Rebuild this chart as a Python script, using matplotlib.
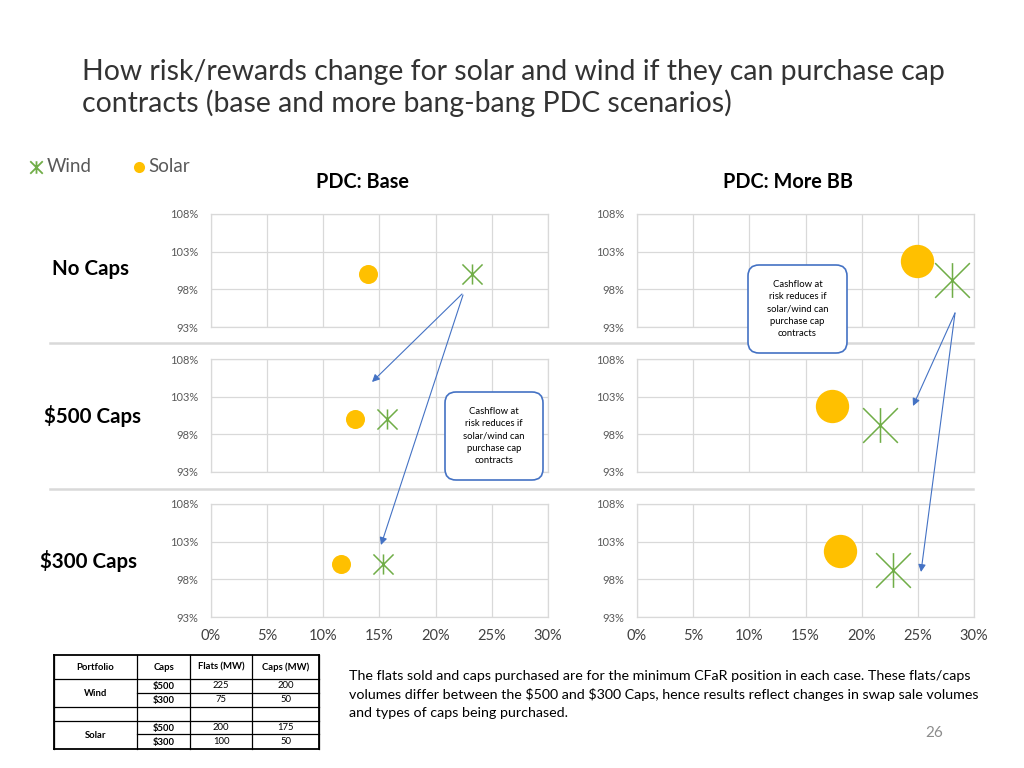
import matplotlib.pyplot as plt
from matplotlib.path import Path
from matplotlib.patches import FancyBboxPatch
from matplotlib.ticker import FuncFormatter

plt.rcParams['text.parse_math'] = False
plt.rcParams['font.family'] = ['Lato', 'DejaVu Sans']

# cap scenarios (rows) and PDC scenarios (columns)
scenarios = ["No Caps", "$500 Caps", "$300 Caps"]
pdc_cases = ["PDC: Base", "PDC: More BB"]

# x = cashflow at risk (%), y = reward (%)
base_solar_x = [14.0, 12.8, 11.6]
base_solar_y = [100.0, 100.0, 100.0]
base_wind_x = [23.2, 15.7, 15.3]
base_wind_y = [100.0, 100.0, 100.0]
bb_solar_x = [24.9, 17.4, 18.1]
bb_solar_y = [101.8, 101.8, 101.8]
bb_wind_x = [28.0, 21.6, 22.8]
bb_wind_y = [99.2, 99.2, 99.2]

x_ticks = [0, 5, 10, 15, 20, 25, 30]
y_ticks = [93, 98, 103, 108]

# table
table_header = ["Portfolio", "Caps", "Flats (MW)", "Caps (MW)"]
cap_levels = ["$500", "$300"]
wind_flats = [225, 75]
wind_caps = [200, 50]
solar_flats = [200, 100]
solar_caps = [175, 50]

callout_text = "Cashflow at\nrisk reduces if\nsolar/wind can\npurchase cap\ncontracts"
note_lines = [
    "The flats sold and caps purchased are for the minimum CFaR position in each case. These flats/caps",
    "volumes differ between the $500 and $300 Caps, hence results reflect changes in swap sale volumes",
    "and types of caps being purchased.",
]

SOLAR = '#FFC000'
WIND = '#70AD47'
BLUE = '#4472C4'
GRID = '#D9D9D9'
GREY = '#595959'

W, H = 1024, 768
fig = plt.figure(figsize=(W / 100, H / 100), dpi=100)

wind_marker = Path([(0, -1), (0, 1), (-1, -1), (1, 1), (-1, 1), (1, -1)],
                   [Path.MOVETO, Path.LINETO] * 3)

cols = [(210.7, 548), (637, 974)]
rows = [(214, 327), (359, 472), (504, 617)]
col_data = [(base_solar_x, base_solar_y, base_wind_x, base_wind_y, 13.7, 14.5),
            (bb_solar_x, bb_solar_y, bb_wind_x, bb_wind_y, 24, 25)]

pct = FuncFormatter(lambda v, p: f"{v:.0f}%")

for ci, (x0, x1) in enumerate(cols):
    sx, sy, wx, wy, s_ms, w_ms = col_data[ci]
    for ri, (y0, y1) in enumerate(rows):
        ax = fig.add_axes([x0 / W, 1 - y1 / H, (x1 - x0) / W, (y1 - y0) / H])
        ax.set_xlim(0, 30)
        ax.set_ylim(93, 108)
        ax.set_xticks(x_ticks)
        ax.set_yticks(y_ticks)
        ax.xaxis.set_major_formatter(pct)
        ax.yaxis.set_major_formatter(pct)
        ax.grid(True, color=GRID, lw=0.9)
        ax.set_axisbelow(True)
        for s in ax.spines.values():
            s.set_color(GRID)
            s.set_linewidth(0.9)
        ax.tick_params(length=0, colors=GREY)
        ax.tick_params(axis='y', labelsize=8, pad=9)
        if ri == 2:
            ax.tick_params(axis='x', labelsize=10.5, pad=9, labelcolor='#404040')
        else:
            ax.tick_params(axis='x', labelbottom=False)
        ax.plot([sx[ri]], [sy[ri]], 'o', color=SOLAR, ms=s_ms, mec='none')
        ax.plot([wx[ri]], [wy[ri]], ls='none', marker=wind_marker, ms=w_ms,
                mfc='none', mec=WIND, mew=1.1)

# overlay in pixel coordinates for slide elements
ov = fig.add_axes([0, 0, 1, 1])
ov.set_xlim(0, W)
ov.set_ylim(H, 0)
ov.axis('off')

ov.text(82, 80, "How risk/rewards change for solar and wind if they can purchase cap",
        fontsize=20.4, color='#333333', va='baseline')
ov.text(82, 112, "contracts (base and more bang-bang PDC scenarios)",
        fontsize=20.4, color='#333333', va='baseline')

# legend
ov.plot([36], [167], ls='none', marker=wind_marker, ms=9, mfc='none', mec=WIND, mew=1.3)
ov.text(47, 167, "Wind", fontsize=13.5, color=GREY, va='center')
ov.plot([139], [167], 'o', color=SOLAR, ms=8, mec='none')
ov.text(148, 167, "Solar", fontsize=13.5, color=GREY, va='center')

for cx, name in zip([362, 788], pdc_cases):
    ov.text(cx, 182, name, fontsize=14.3, fontweight='bold', ha='center', va='center', color='black')
for cy, cx, name in zip([269, 416, 561], [90, 92, 89], scenarios):
    ov.text(cx, cy, name, fontsize=14.8, fontweight='bold', ha='center', va='center', color='black')

# separators between rows
for sy_ in [343, 489]:
    ov.plot([50, 973], [sy_, sy_], color=GRID, lw=1.8)

# arrows
arrows = [((462, 294), (372, 382)), ((463, 295), (381, 545)),
          ((955, 313), (913, 406)), ((955, 313), (921, 572))]
for start, tip in arrows:
    ov.annotate("", xy=tip, xytext=start,
                arrowprops=dict(arrowstyle='-|>', color=BLUE, lw=0.8,
                                mutation_scale=11, shrinkA=0, shrinkB=0))

# callouts
for bx0, by0, bx1, by1 in [(748, 265, 847, 353), (445, 392, 543, 480)]:
    ov.add_patch(FancyBboxPatch((bx0, by0), bx1 - bx0, by1 - by0,
                                boxstyle="round,pad=0,rounding_size=11",
                                fc='white', ec=BLUE, lw=1.2, zorder=5))
    ov.text((bx0 + bx1) / 2, (by0 + by1) / 2, callout_text, fontsize=6.8,
            ha='center', va='center', linespacing=1.45, zorder=6)

# table
tx = [54, 137, 190, 252, 319]
ty = [655, 679, 693, 707, 721, 734, 749]
for x in tx:
    ov.plot([x, x], [ty[0], ty[-1]], color='black', lw=0.9)
for i, y in enumerate(ty):
    xs = [tx[1], tx[-1]] if i in (2, 5) else [tx[0], tx[-1]]
    ov.plot(xs, [y, y], color='black', lw=1.3 if i in (0, 6) else 0.9)
ov.plot([tx[0], tx[0]], [ty[0], ty[-1]], color='black', lw=1.3)
ov.plot([tx[-1], tx[-1]], [ty[0], ty[-1]], color='black', lw=1.3)

mids = [(tx[i] + tx[i + 1]) / 2 for i in range(4)]
for m, h in zip(mids, table_header):
    ov.text(m, 667, h, fontsize=6.8, fontweight='bold', ha='center', va='center')
blocks = [("Wind", wind_flats, wind_caps, 679), ("Solar", solar_flats, solar_caps, 721)]
for name, flats, caps, top in blocks:
    ov.text(mids[0], top + 14, name, fontsize=6.8, fontweight='bold', ha='center', va='center')
    for k in range(2):
        yc = top + 7 + 14 * k
        ov.text(mids[1], yc, cap_levels[k], fontsize=6.8, fontweight='bold', ha='center', va='center')
        ov.text(mids[2], yc, str(flats[k]), fontsize=6.8, ha='center', va='center')
        ov.text(mids[3], yc, str(caps[k]), fontsize=6.8, ha='center', va='center')

for k, line in enumerate(note_lines):
    ov.text(349, 680 + 18.7 * k, line, fontsize=10.3, color='black', va='baseline')

ov.text(943, 733, "26", fontsize=11, color='#8C8C8C', ha='right', va='center')

fig.savefig("out.png", dpi=100)
